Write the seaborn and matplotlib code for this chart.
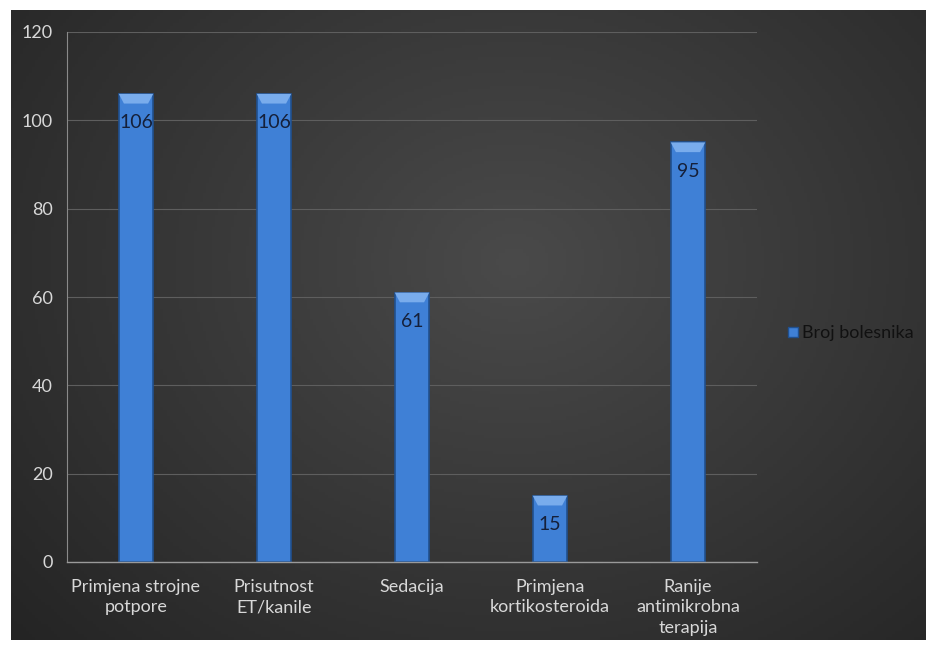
import numpy as np
import pandas as pd
import matplotlib
matplotlib.use("Agg")
import matplotlib.pyplot as plt
import seaborn as sns
from matplotlib.patches import Polygon
from matplotlib.lines import Line2D

categories = ["Primjena strojne\npotpore", "Prisutnost\nET/kanile", "Sedacija",
              "Primjena\nkortikosteroida", "Ranije\nantimikrobna\nterapija"]
values = [106, 106, 61, 15, 95]
yticks = [0, 20, 40, 60, 80, 100, 120]
series_name = "Broj bolesnika"

sns.set_theme(style="dark")
plt.rcParams['font.family'] = ['Lato', 'DejaVu Sans']

W, H = 929, 646
fig = plt.figure(figsize=(W / 100, H / 100), dpi=100, facecolor="white")

# dark gradient background panel
bx0, by0, bx1, by1 = 11, 10, 926, 640
bg = fig.add_axes([bx0 / W, 1 - by1 / H, (bx1 - bx0) / W, (by1 - by0) / H])
yy, xx = np.mgrid[0:1:200j, 0:1:300j]
r = np.sqrt(((xx - 0.55) / 0.75) ** 2 + ((yy - 0.6) / 0.9) ** 2)
g = np.clip(0.29 - 0.15 * r, 0.14, 0.29)
bg.imshow(np.dstack([g, g, g]), aspect="auto", extent=[0, 1, 0, 1], origin="lower")
bg.set_axis_off()

ax = fig.add_axes([67 / W, 1 - 562 / H, 690 / W, 530 / H])
ax.set_facecolor((0, 0, 0, 0))
df = pd.DataFrame({"cat": categories, "val": values})
sns.barplot(data=df, x="cat", y="val", ax=ax, color="#3f80d6", width=0.25,
            edgecolor="#20508f", linewidth=1.2, saturation=1)

# bevel cap on top of bars
for p in list(ax.patches):
    x, w, h = p.get_x(), p.get_width(), p.get_height()
    cap = Polygon([(x, h), (x + w, h), (x + w * 0.85, h - 2.2), (x + w * 0.15, h - 2.2)],
                  closed=True, facecolor="#79acec", edgecolor="none", zorder=3)
    ax.add_patch(cap)

for i, v in enumerate(values):
    ax.text(i, v - 6.5, str(v), ha="center", va="center", fontsize=14,
            color="#15203a", zorder=4)

ax.set_ylim(0, 120)
ax.set_xlim(-0.5, 4.5)
ax.set_yticks(yticks)
ax.set_yticklabels([str(t) for t in yticks])
ax.yaxis.grid(True, color="#5e5e5e", linewidth=0.8)
ax.xaxis.grid(False)
ax.set_axisbelow(True)
ax.set_xlabel("")
ax.set_ylabel("")
for s in ["top", "right"]:
    ax.spines[s].set_visible(False)
ax.spines["left"].set_visible(True)
ax.spines["left"].set_color("#8a8a8a")
ax.spines["left"].set_linewidth(0.8)
ax.spines["bottom"].set_visible(True)
ax.spines["bottom"].set_color("#9a9a9a")
ax.spines["bottom"].set_linewidth(1.0)
ax.tick_params(axis="y", colors="#d8d8d8", labelsize=13, length=0, pad=10)
ax.tick_params(axis="x", colors="#d8d8d8", labelsize=13, length=0, pad=12)
for t in ax.get_xticklabels():
    t.set_linespacing(1.35)

handle = Line2D([], [], marker="s", linestyle="none", markersize=7,
                markerfacecolor="#3f80d6", markeredgecolor="#20508f")
fig.legend([handle], [series_name], loc="center left",
           bbox_to_anchor=(775 / W, 1 - 333 / H), frameon=False,
           fontsize=13, labelcolor="#111111", handletextpad=0.0,
           handlelength=1.0, borderpad=0)

fig.savefig("out.png", dpi=100, facecolor="white")
